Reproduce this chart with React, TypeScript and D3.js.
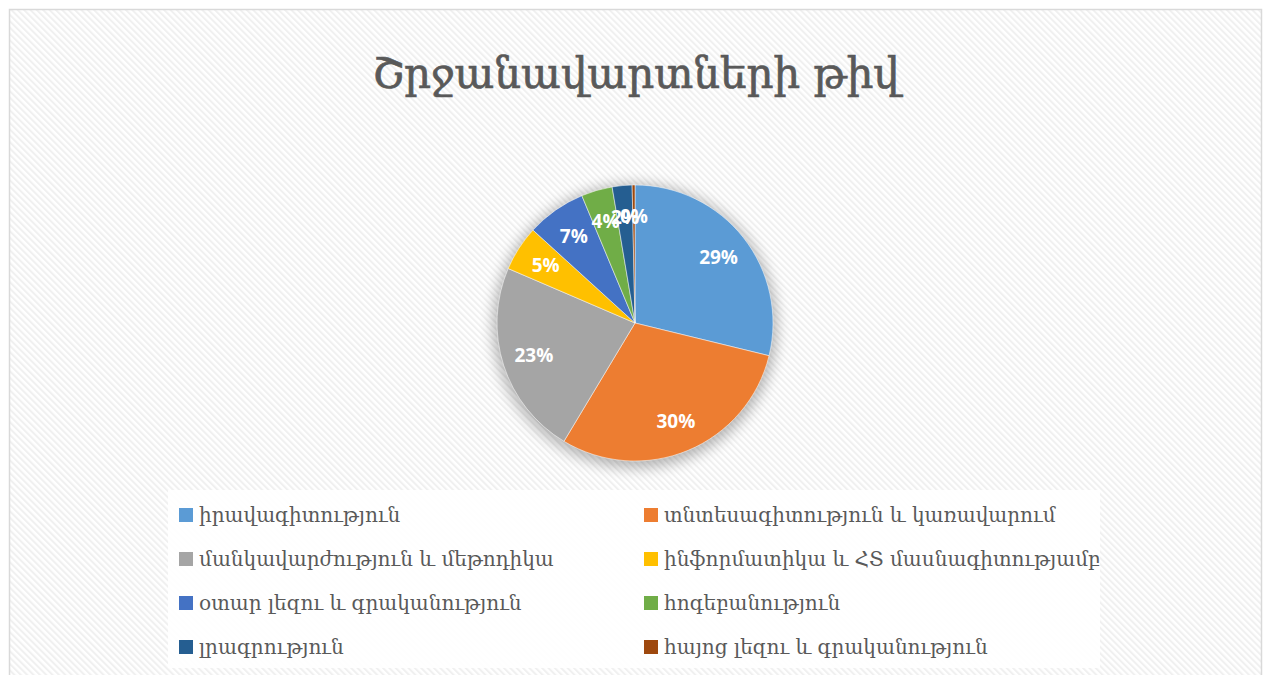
import React, { useEffect, useRef } from "react";
import * as d3 from "d3";

const TITLE = "Շրջանավարտների թիվ";
const categories = [
  "իրավագիտություն",
  "տնտեսագիտություն և կառավարում",
  "մանկավարժություն և մեթոդիկա",
  "ինֆորմատիկա և ՀՏ մասնագիտությամբ",
  "օտար լեզու և գրականություն",
  "հոգեբանություն",
  "լրագրություն",
  "հայոց լեզու և գրականություն",
];
const values = [87, 90, 69, 16, 21, 11, 7, 1];
const colors = ["#5B9BD5", "#ED7D31", "#A5A5A5", "#FFC000", "#4472C4", "#70AD47", "#255E91", "#9E480E"];

const W = 1270;
const H = 675;

export default function App() {
  const ref = useRef<SVGSVGElement>(null);
  useEffect(() => {
    const svg = d3.select(ref.current);
    svg.selectAll("*").remove();
    const defs = svg.append("defs");
    const pat = defs
      .append("pattern")
      .attr("id", "stripes")
      .attr("patternUnits", "userSpaceOnUse")
      .attr("width", 4.5)
      .attr("height", 4.5)
      .attr("patternTransform", "rotate(-45)");
    pat.append("rect").attr("width", 4.5).attr("height", 4.5).attr("fill", "#ffffff");
    pat.append("rect").attr("width", 2).attr("height", 4.5).attr("fill", "#f0f0f0");
    const f = defs.append("filter").attr("id", "shadow").attr("x", "-30%").attr("y", "-30%").attr("width", "160%").attr("height", "160%");
    f.append("feGaussianBlur").attr("stdDeviation", 7);

    svg.append("rect").attr("x", 0).attr("y", 0).attr("width", W).attr("height", H).attr("fill", "#ffffff");
    svg
      .append("rect")
      .attr("x", 9.5)
      .attr("y", 9.5)
      .attr("width", 1252)
      .attr("height", 680)
      .attr("fill", "url(#stripes)")
      .attr("stroke", "#d9d9d9")
      .attr("stroke-width", 1.5);

    svg
      .append("text")
      .attr("x", 636)
      .attr("y", 88)
      .attr("text-anchor", "middle")
      .attr("font-family", "DejaVu Serif")
      .attr("font-size", 42)
      .attr("fill", "#595959")
      .attr("stroke", "#595959")
      .attr("stroke-width", 0.7)
      .text(TITLE);

    const cx = 635, cy = 323, r = 138;
    const g = svg.append("g").attr("transform", `translate(${cx},${cy})`);
    g.append("circle").attr("r", r + 4).attr("cy", 3).attr("fill", "#000").attr("opacity", 0.28).attr("filter", "url(#shadow)");

    const pie = d3.pie<number>().sort(null).value((d) => d);
    const arcs = pie(values);
    const arc = d3.arc<d3.PieArcDatum<number>>().innerRadius(0).outerRadius(r);
    const total = d3.sum(values);
    g.selectAll("path.slice")
      .data(arcs)
      .join("path")
      .attr("class", "slice")
      .attr("d", arc)
      .attr("fill", (_, i) => colors[i])
      .attr("stroke", "#ffffff")
      .attr("stroke-width", 0.5);

    const labelArc = d3.arc<d3.PieArcDatum<number>>().innerRadius(r * 0.77).outerRadius(r * 0.77);
    const fmt = d3.format(".0%");
    g.selectAll("text.lbl")
      .data(arcs)
      .join("text")
      .attr("class", "lbl")
      .attr("transform", (d) => `translate(${labelArc.centroid(d)})`)
      .attr("text-anchor", "middle")
      .attr("dy", "0.35em")
      .attr("font-family", "Open Sans")
      .attr("font-weight", 700)
      .attr("font-size", 19)
      .attr("fill", "#ffffff")
      .text((d) => fmt(d.value / total));

    // legend
    svg.append("rect").attr("x", 168).attr("y", 490).attr("width", 932).attr("height", 178).attr("fill", "#ffffff").attr("opacity", 0.9);
    const colX = [179, 644];
    const rowY = [515, 559, 603, 647];
    categories.forEach((c, i) => {
      const x = colX[i % 2];
      const y = rowY[Math.floor(i / 2)];
      svg.append("rect").attr("x", x).attr("y", y - 7).attr("width", 14).attr("height", 14).attr("fill", colors[i]);
      svg
        .append("text")
        .attr("x", x + 20)
        .attr("y", y)
        .attr("dy", "0.35em")
        .attr("font-family", "DejaVu Serif")
        .attr("font-size", 20)
        .attr("fill", "#595959")
        .text(c);
    });
  }, []);
  return (
    <svg
      ref={ref}
      width={W}
      height={H}
      style={{ position: "absolute", left: 0, top: 0, display: "block" }}
    />
  );
}
